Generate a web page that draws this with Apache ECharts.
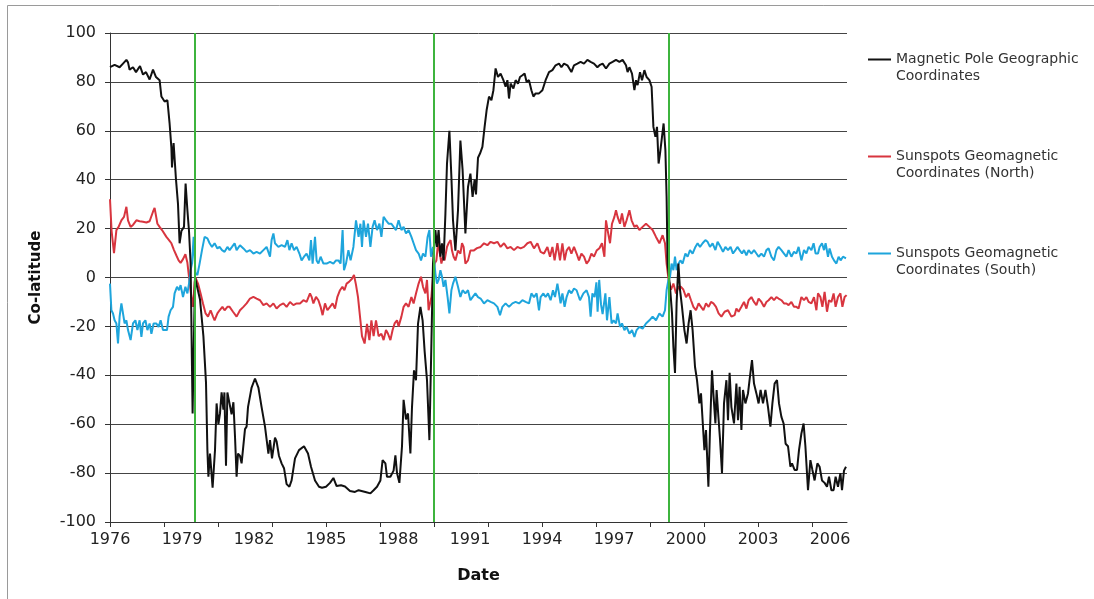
<!DOCTYPE html>
<html>
<head>
<meta charset="utf-8">
<script src="https://cdn.jsdelivr.net/npm/echarts@6/dist/echarts.min.js"></script>
<style>
  html, body { margin: 0; padding: 0; background: #ffffff; }
  #chart { width: 1094px; height: 599px; }
</style>
</head>
<body>
<div id="chart"></div>
<script>
// Time is counted in months from January 1976; values are co-latitudes in degrees.
const startYear = 1976;

// [month, co-latitude] readings
const poleData = [
  [0,86],[2.3,87],[4.8,86],[6.5,87.5],[8.2,89],[9,88],[9.8,85],[11.5,86],[13,84],[15,86.5],
  [16.5,83],[18,84],[19.8,81],[21.5,85],[23,82],[24.8,80.7],[25.7,74],[27.3,72],[28.7,72.5],[29.8,63],
  [30.7,53],[31,45],[31.8,55],[33,40],[34,30],[34.8,14],[35.7,19],[37,20.7],[37.8,38.4],[38.7,27.5],
  [39.5,19],[40.3,6],[41.3,-55.6],[42.5,0],[45,-9],[46.7,-24],[48,-43],[48.7,-70.6],[49.2,-81.5],[50,-72],
  [51.3,-86],[52.5,-70.6],[53.3,-51.5],[54.2,-60],[55,-55.6],[55.8,-47],[56.7,-54],[57.2,-47],[58,-77],[58.7,-47],
  [59.7,-47.4],[60.8,-56],[61.7,-51],[62.5,-65],[63.3,-81.5],[64,-72],[65,-73],[65.8,-76],[67.5,-62],[68.3,-61],
  [69,-53],[70.8,-45],[72.5,-41.3],[74.2,-45],[75.8,-53],[77.5,-61],[79.2,-72],[80,-66.5],[81,-74],[82.5,-65.5],
  [83.3,-67],[84.5,-73],[85.8,-76],[87,-78],[88.3,-84.5],[89.7,-85.6],[90.8,-83],[92.5,-74],[94.5,-70.6],[97,-69],
  [99,-72],[100.5,-77.4],[102.5,-83],[104.5,-85.6],[106,-86],[108,-85.6],[110,-84],[111.7,-82],[113.3,-85.3],[115.5,-85],
  [117.5,-85.5],[120,-87.3],[122.5,-87.7],[124.3,-87],[127.7,-87.7],[130.2,-88.3],[131.8,-87],[133.5,-85.6],[135.2,-83],[136.3,-74.7],
  [137.7,-76],[138.5,-81.5],[140.2,-81.5],[141.8,-79],[142.7,-72.7],[143.5,-80],[144.7,-84],[146,-69],[146.8,-50],[148,-58],
  [149,-55.6],[150.2,-72],[151,-53],[152,-38],[153,-42],[154,-19],[155.2,-12],[156.3,-17.5],[157.3,-30],[158.5,-42],
  [159.7,-66.5],[160.7,-27],[161.5,5.7],[162.7,19.4],[163.5,12.5],[164.3,19.4],[165.2,8.5],[166,14],[166.8,7],[167.7,26],
  [168.5,46.6],[169.7,60],[170.7,41],[171.5,23.4],[172.7,11],[174,27.5],[175.2,56],[176.3,44],[177.7,18],[179,37],
  [180.2,42.5],[181.3,33],[182.3,40],[183,34],[184,49],[185,50.7],[186.2,53.4],[187.3,61.6],[188.3,68.4],[189.5,74],
  [190.7,72.5],[191.7,76.6],[192.8,85.5],[194,82],[195.3,83.4],[196.7,80.7],[197.8,78],[198.7,80.7],[199.5,73.2],[200.3,79.3],
  [201.7,77.3],[202.8,80.7],[204,79.3],[205,82],[206.2,82.7],[207.3,83.4],[208.3,80],[209.5,80.7],[210.7,76.6],[211.7,74],
  [212.8,75.3],[214.5,75.3],[216.2,76.6],[217.8,80.7],[219.5,84],[221.2,84.8],[222.8,86.8],[224.5,87.5],[225.7,86],[227,87.5],
  [228.7,86.8],[230.7,84],[232,86.8],[233.7,87.5],[235.3,88.2],[237,87.5],[238.7,89],[240.3,88.2],[242,87.5],[243.7,86],
  [245,87],[246.3,87.5],[248,85.5],[249.7,87.5],[251.3,88.2],[253,89],[254.7,88.2],[256.3,89],[258,86.8],[258.8,84],
  [259.7,86],[261,83.4],[262.2,76.6],[263,80.7],[263.8,78.7],[265,84],[266,80.7],[267.2,84.8],[268.3,82],[269.7,80.7],
  [270.8,78],[271.7,61.6],[272.7,57.5],[273.5,61.6],[274.3,46.6],[275,50.7],[276,57.5],[276.8,63],[277.7,52],[278.3,33],
  [278.8,5.7],[280,-3.8],[281,-14.7],[281.7,-28.4],[282.5,-39],[283.3,-10.6],[284.2,5.7],[285,-5],[286,-12],[287.2,-21.5],
  [288.3,-27],[289.3,-18.8],[290.3,-13.4],[291.3,-21.5],[292.5,-36.5],[293.5,-42],[294.7,-51.5],[295.5,-47.4],[296.3,-58.4],[297.2,-70.6],
  [298,-62.4],[299.2,-85.6],[300,-62.4],[301,-38],[301.8,-48.8],[302.7,-59.7],[303.3,-46],[304.2,-57],[305,-66],[306,-80],
  [307,-51.5],[308.2,-42],[309,-58.4],[309.8,-39],[310.7,-53],[312,-59.7],[313.2,-43.4],[314,-58.4],[314.8,-44.7],[315.7,-62.4],
  [316.5,-46],[317.7,-51.5],[319,-47.4],[320.2,-39],[321,-33.8],[322,-43.4],[323.2,-47.4],[324.3,-51.5],[325.3,-46],[326.5,-51.5],
  [327.7,-46],[329,-53],[330.2,-61],[331.2,-51.5],[332.3,-43.4],[333.5,-42],[334.5,-51.5],[335.7,-57],[336.8,-59.7],[337.8,-68],
  [339,-69],[340.2,-77.4],[341,-76],[342.3,-78.7],[343.5,-78.7],[344.5,-70.6],[345.7,-63.8],[346.8,-59.7],[347.7,-69],[349,-87],
  [350.2,-74.7],[351.2,-78.7],[352.3,-83],[353.7,-76],[354.8,-77.4],[356,-83],[357.3,-84],[358.5,-85.6],[359.5,-81.5],[360.7,-87],
  [361.8,-87],[362.8,-81.5],[364,-85.6],[365.2,-80],[366,-87],[367,-79],[368,-77.4]
];

const northData = [
  [0,32],[0.8,19],[2,10],[3.2,19.4],[4.3,20.7],[5.7,23.4],[7,24.8],[8.2,28.9],[9,23.4],[10.3,20.7],
  [11.5,21.5],[13.2,23.4],[14.8,23],[16.5,22.8],[18.2,22.5],[19.8,23],[21.5,26.9],[22.3,28.5],[23.7,22],[24.8,20.7],
  [26,19.4],[27,20],[28.2,16.6],[29.5,15.3],[30.7,14],[32,11.2],[33.2,9],[34.3,7],[35.3,6],[36.5,7.5],
  [37.7,9.5],[38.7,6],[39.5,0.3],[40.7,-8],[41.5,-12],[42.3,-2],[42.7,0],[44,-2.5],[45.3,-6.5],[46.5,-10.6],
  [47.8,-14.7],[49,-16],[50.3,-13.4],[51.5,-16],[52.3,-17.5],[53.7,-14.7],[54.8,-13.4],[56.2,-12],[57.3,-13.4],[58.7,-12],
  [59.8,-12],[61.5,-14],[63.3,-16],[65,-13.4],[66.7,-12],[68.3,-10.6],[70,-8.6],[71.7,-7.9],[73.3,-8.6],[75,-9.3],
  [76.7,-11.3],[78.3,-10.6],[80,-12],[81.7,-10.6],[83.3,-12.7],[85,-11.3],[86.7,-10.6],[88.3,-12],[90,-10],[91.7,-11.3],
  [93.3,-10.6],[95,-10.6],[96.7,-9.3],[98.3,-10],[100,-6.5],[100.8,-7.9],[101.7,-10.6],[103,-7.9],[104.2,-9.3],[105.3,-12],
  [106.3,-15.4],[107.5,-10.6],[108.7,-13.4],[110,-12],[111.3,-10.6],[112.5,-12.7],[113.7,-7.9],[115,-5.2],[116.2,-3.8],[117.2,-5.2],
  [118.3,-2.5],[119.5,-1.8],[121,-0.5],[122,1],[123,-3],[124,-8],[125.2,-17.5],[126,-24],[127.3,-27],[128.5,-19],
  [129.7,-25.6],[130.7,-17.5],[131.8,-24],[133,-17.5],[134.3,-24],[135.7,-23],[136.8,-25.6],[138,-21.5],[139,-23],[140.2,-25.6],
  [141.3,-21.5],[142.3,-18.8],[143.5,-17.5],[144.3,-20],[145.7,-16],[146.8,-12],[148,-10.6],[149.3,-12],[150.7,-8],[151.8,-10.6],
  [153,-6.5],[154.3,-2.5],[155.5,0.3],[156.5,-3.8],[157.7,-6.5],[158.5,-1],[159.3,-13.4],[160.7,-8],[161.5,0.3],[162.3,5.7],
  [163.2,7],[164,14],[164.7,11],[165.7,5.7],[166.5,8.5],[167.3,7],[168.5,12.5],[169.3,14],[170.3,15.3],[171,11],
  [171.8,8.5],[172.7,7],[174,11],[175.2,9.8],[176,14],[176.8,12.5],[177.7,5.7],[179,7],[180.2,11],[181.8,11],
  [183.5,12],[185.3,12.5],[187,14],[188.7,13.2],[190.3,14.6],[192,14],[193.7,14.6],[195.3,12.5],[197,14],[198.7,11.9],
  [200.3,12.5],[202,11.2],[203.7,12.5],[205.3,11.9],[207,12.5],[208.7,14],[210.3,14.6],[212,11.9],[213.7,14],[215.3,10.5],
  [217,9.8],[218.7,12.5],[220,8.5],[221.2,12.5],[222.3,7],[223.7,14],[225,7],[226.2,14],[227.3,7],[228.3,11],
  [229.5,12.5],[230.7,9.8],[232,12.5],[233.3,9.8],[234.5,7],[235.7,9.8],[237,8.5],[238.3,5.7],[239.5,7],[240.7,9.8],
  [242,8.5],[243.3,11],[244.7,12],[246,14],[247.2,8.5],[248,23.4],[248.8,19.4],[250,14],[251,22],[252.2,24.8],
  [253,27.5],[253.8,24.8],[255,22],[256,26.2],[257.2,20.7],[258.3,23.4],[259.7,27.5],[260.8,23.4],[262.2,20.7],[263.3,21.4],
  [264.7,19.4],[266.3,20.7],[268,22],[269.7,20.7],[271.3,19.4],[273,16.6],[274.7,14],[276.3,17.3],[277.5,14],[278.3,5.7],
  [279.3,-1],[280.5,-5],[281.7,-2.5],[283,-6.5],[284.3,-3.8],[285.5,-3.8],[286.7,-5],[288,-8],[289.3,-6.5],[290.5,-9.3],
  [291.7,-12],[293,-13.4],[294.3,-10.6],[295.5,-12],[296.7,-13.4],[298,-10.6],[299.3,-12],[300.5,-10],[301.7,-10.6],[303,-12],
  [304.3,-14.7],[305.7,-16],[307.3,-14],[309,-13.4],[310.7,-16],[312.3,-15.4],[313.2,-12.7],[314.3,-14],[315.7,-12],[317,-10],
  [318.2,-12.7],[319.3,-9.3],[320.7,-8],[322,-10],[323.2,-11.3],[324.3,-8.6],[325.7,-10],[327,-12],[328.2,-10],[329.3,-9.3],
  [330.7,-8],[332,-9.3],[333.2,-8],[334.3,-8.6],[335.7,-9.3],[337,-10.6],[338.2,-10.6],[339.3,-11.3],[340.7,-10],[342,-12],
  [343.2,-12],[344.3,-12.7],[345.7,-8],[347,-9.3],[348.2,-8],[349.3,-10],[350.7,-10.6],[352,-8],[353.2,-13.4],[354,-6.5],
  [355.2,-8],[356.2,-12],[357.3,-5.9],[358.5,-14],[359.5,-9.3],[360.7,-10],[361.8,-6.5],[362.8,-12],[364,-8],[365.2,-6.5],
  [366.2,-12],[367.3,-8],[368.3,-7.2]
];

const southData = [
  [0,-2.5],[0.7,-13.4],[1.5,-14.7],[2.3,-17.5],[3.2,-18.8],[4,-27],[4.8,-16],[5.7,-10.6],[6.5,-14.7],[7.3,-18.8],
  [8.2,-17.5],[9,-21.5],[10.3,-25.6],[11.5,-18.8],[12.7,-17.5],[13.7,-21.5],[14.8,-17.5],[15.7,-24.3],[16.5,-18.8],[17.7,-17.5],
  [18.7,-21.5],[19.8,-18.8],[20.7,-23],[21.8,-18.8],[23.2,-18.8],[24.3,-20.2],[25.3,-17.5],[26.5,-21.5],[27.3,-22.2],[28.5,-21.5],
  [29.3,-16],[30.3,-13.4],[31.5,-12],[32.3,-6.5],[33.5,-3.8],[34.5,-5.2],[35.3,-3.1],[36.5,-8],[37.7,-3.8],[38.7,-6.5],
  [39.5,-2.5],[40.3,3],[41,5.7],[41.8,16.6],[42.7,2],[43.7,1],[44.8,5.7],[46,11.2],[47.3,16.6],[48.7,16],
  [49.8,14],[51,12.5],[52.3,14],[53.7,11.9],[54.8,12.5],[56,11.2],[57.3,10.5],[58.7,12.5],[59.8,11.2],[61,12.5],
  [62.3,14],[63.3,11.2],[65,13.2],[66.7,11.9],[68.3,10.5],[70,11.2],[71.7,9.8],[73.3,10.5],[75,9.8],[76.7,11.2],
  [78.3,12.5],[80,8.5],[80.8,15.3],[81.7,18],[82.5,14],[84.2,12.5],[85.8,13.2],[87.5,12.5],[88.7,15.3],[89.7,11.2],
  [90.8,14],[92,11.2],[93.3,12.5],[94.7,9.8],[95.8,7],[97,8.5],[98.3,9.8],[99.7,7],[100.5,15.3],[101.3,5.7],
  [102.5,16.6],[103.3,7],[104.2,5.7],[105.3,8.5],[106.7,5.7],[108.3,5.7],[110,6.4],[111.7,5.7],[113,7],[114.2,7],
  [115.3,5.7],[116.3,19.4],[117,3],[118,5.7],[119.2,11.2],[120.3,7],[121.7,12.5],[123,23.4],[124.3,16.6],[125.2,22],
  [126,12.5],[126.8,23.4],[128,16.6],[129,22],[130.2,12.5],[131.3,20.7],[132.3,23.4],[133.5,19.4],[134.7,22],[135.7,16.6],
  [136.8,24.8],[138,23.4],[139.3,22],[140.7,22],[141.8,20.7],[143,19.4],[144.3,23.4],[145.7,19.4],[146.8,20.7],[148,18],
  [149.3,19.4],[150.7,16.6],[151.8,14],[153,11.2],[154.3,9.8],[155.5,7],[156.5,9.8],[157.7,8.5],[158.8,16.6],[159.7,19.4],
  [160.5,8.5],[161.5,12.5],[162.7,1.6],[163.5,-2.5],[164.3,-1],[165.2,3],[166,0.3],[166.8,-3.8],[167.7,-1],[168.8,-8],
  [169.7,-14.7],[170.7,-5.2],[171.5,-2.5],[172.7,0.3],[174,-3.8],[175.2,-8],[176.3,-5.2],[177.7,-6.5],[179,-5.2],[180.2,-9.3],
  [181.3,-8],[182.7,-6.5],[184,-8],[185.3,-8.6],[187,-10.6],[188.7,-9.3],[190.3,-10],[192,-10.6],[193.7,-12],[195,-15.4],
  [196.2,-12],[197.8,-10.6],[199.5,-12],[201.2,-10.6],[202.8,-10],[204.5,-10.6],[206.2,-9.3],[207.8,-10],[209.5,-10.6],[210.7,-6.5],
  [212,-8],[213.3,-6.5],[214.5,-13.4],[215.3,-8],[216.7,-6.5],[217.8,-8],[219,-6.5],[220.3,-9.3],[221.5,-5.2],[222.5,-8],
  [223.7,-2.5],[224.5,-6.5],[225.3,-10.6],[226.2,-6.5],[227.3,-12],[228.3,-8],[229.5,-5.2],[230.7,-6.5],[232,-4.5],[233.3,-5.2],
  [235,-9.3],[236.7,-6.5],[238.3,-5.2],[239.5,-8],[240.3,-16],[241.2,-6.5],[242.3,-8],[243.2,-2],[243.8,-14],[244.6,-1],
  [245.5,-11],[246.3,-15],[247.7,-6.5],[248.5,-17.5],[249.7,-8],[250.8,-18.8],[251.8,-17.5],[253,-18.8],[253.8,-14.7],[255,-20.2],
  [256,-18.8],[257.2,-21.5],[258.3,-20.2],[259.7,-23],[261,-21.5],[262.2,-24.3],[263.3,-21.5],[264.7,-20.2],[266.3,-20.9],[268,-18.8],
  [269.7,-17.5],[271.3,-16],[273,-17.5],[274.7,-14.7],[276.3,-16],[277.5,-13.4],[278.3,-5.2],[279.2,-1],[280,0.3],[280.8,5.7],
  [281.7,3],[282.5,8.5],[283.3,3],[284.3,5.7],[285.2,7],[286.3,5.7],[287.7,9.8],[288.8,8.5],[290,11.2],[291.3,9.8],
  [292.7,12.5],[293.8,14],[295,12.5],[296.3,14],[297.7,15.3],[298.8,14.6],[300,12.5],[301.3,14],[302.7,11.2],[303.8,14.6],
  [305.3,12.5],[306.5,10.5],[307.7,12.5],[309,11.2],[310.3,12.5],[311.5,9.8],[312.7,11.2],[313.7,12.5],[314.8,11.2],[316,9.8],
  [317,11.2],[318.2,9.1],[319.3,11.2],[320.7,9.8],[322,11.2],[323.2,9.8],[324.3,8.5],[325.7,9.8],[327,8.5],[328.2,11.2],
  [329.3,11.9],[330.7,8.5],[332,7],[333.2,11.2],[334.3,12.5],[335.7,11.2],[337,9.8],[338.2,8.5],[339.3,11.2],[340.7,8.5],
  [342,10.5],[343.2,9.8],[344.3,12.5],[345.7,7],[347,11.2],[348.2,9.8],[349.3,12.5],[350.7,11.2],[351.8,14],[352.8,9.8],
  [354,9.8],[354.8,12.5],[356,14],[357,11.2],[357.8,14],[359,8.5],[359.8,11.9],[361,8.5],[362,7],[363.2,5.7],
  [364.3,8.5],[365.3,7],[366.5,8.5],[368,7.8]
];

// Reversal epochs marked with vertical lines (months from Jan 1976)
const cycleMonths = [42.3, 161.8, 279.2];

// Axis label and tick positions (months from Jan 1976)
const labelMonths = [0, 36, 72, 108, 144, 180, 216, 252, 288, 324, 360];
const tickMonths = [0, 27, 54, 81, 108, 135, 162, 189, 216, 243, 270, 297, 324, 351];
const yTicks = [-100, -80, -60, -40, -20, 0, 20, 40, 60, 80, 100];

const seriesNames = [
  'Magnetic Pole Geographic\nCoordinates',
  'Sunspots Geomagnetic\nCoordinates (North)',
  'Sunspots Geomagnetic\nCoordinates (South)'
];
const seriesColors = ['#111111', '#d8353f', '#1ea5dc'];

const FONT = 'DejaVu Sans';
const chart = echarts.init(document.getElementById('chart'), null, { renderer: 'canvas' });

function lineSeries(name, data, color, z) {
  return {
    name: name,
    type: 'line',
    data: data,
    showSymbol: false,
    symbol: 'none',
    smooth: false,
    z: z,
    lineStyle: { color: color, width: 2 },
    itemStyle: { color: color },
    emphasis: { disabled: true }
  };
}

const pole = lineSeries(seriesNames[0], poleData, seriesColors[0], 4);
pole.markLine = {
  silent: true,
  symbol: ['none', 'none'],
  label: { show: false },
  lineStyle: { color: '#3db43d', width: 2, type: 'solid' },
  data: cycleMonths.map(m => ({ xAxis: m }))
};

chart.setOption({
  animation: false,
  backgroundColor: '#ffffff',
  grid: { left: 110, right: 247, top: 33, bottom: 77, containLabel: false },
  graphic: [{
    type: 'rect',
    shape: { x: 7.5, y: 5.5, width: 1200, height: 700 },
    style: { fill: 'none', stroke: '#9a9a9a', lineWidth: 1 },
    silent: true, z: -1
  }],
  legend: {
    orient: 'vertical',
    left: 863,
    top: 46,
    itemWidth: 23,
    itemHeight: 19,
    itemGap: 63,
    icon: 'path://M0,0H23V2H0Z M0,18.99H23V19H0Z',
    itemStyle: { borderWidth: 0 },
    textStyle: { fontFamily: FONT, fontSize: 14, color: '#333333', lineHeight: 17 },
    selectedMode: false,
    data: seriesNames
  },
  xAxis: {
    type: 'value',
    min: 0,
    max: 368.5,
    interval: 36,
    axisLine: { show: true, onZero: false, lineStyle: { color: '#333333', width: 1 } },
    axisTick: { show: true, length: 5, customValues: tickMonths, lineStyle: { color: '#333333' } },
    splitLine: { show: false },
    axisLabel: {
      customValues: labelMonths,
      formatter: v => String(startYear + Math.round(v / 12)),
      fontFamily: FONT, fontSize: 16, color: '#222222', margin: 10
    },
    name: 'Date',
    nameLocation: 'middle',
    nameGap: 46,
    nameTextStyle: { fontFamily: FONT, fontWeight: 'bold', fontSize: 16, color: '#111111' }
  },
  yAxis: {
    type: 'value',
    min: -100,
    max: 100,
    interval: 20,
    axisLine: { show: true, lineStyle: { color: '#333333', width: 1 } },
    axisTick: { show: true, length: 5, customValues: yTicks, lineStyle: { color: '#333333' } },
    splitLine: { show: true, lineStyle: { color: '#444444', width: 1 } },
    axisLabel: { fontFamily: FONT, fontSize: 16, color: '#222222', margin: 14 },
    name: 'Co-latitude',
    nameLocation: 'middle',
    nameRotate: 90,
    nameGap: 66,
    nameTextStyle: { fontFamily: FONT, fontWeight: 'bold', fontSize: 15, color: '#111111' }
  },
  series: [
    pole,
    lineSeries(seriesNames[1], northData, seriesColors[1], 2),
    lineSeries(seriesNames[2], southData, seriesColors[2], 3)
  ]
});
</script>
</body>
</html>
